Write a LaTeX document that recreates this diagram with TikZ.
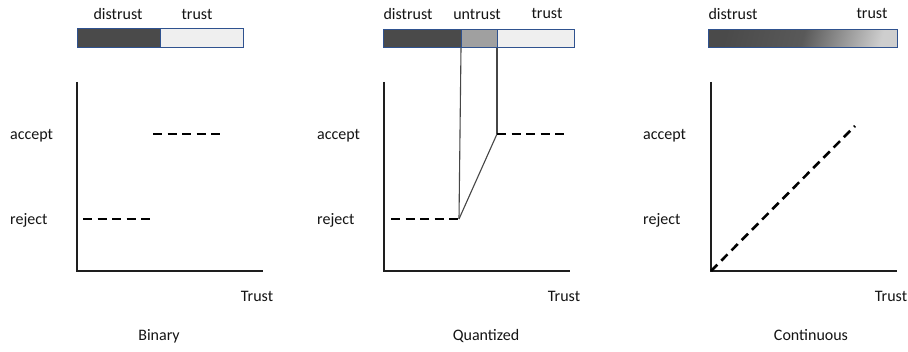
\documentclass[tikz,border=0pt]{standalone}
\usepackage{fontspec}
\setmainfont{Carlito}
\definecolor{barborder}{RGB}{47,82,143}
\definecolor{bardark}{RGB}{74,74,74}
\definecolor{barmid}{RGB}{160,160,160}
\definecolor{barlight}{RGB}{239,239,239}
\definecolor{axiscol}{RGB}{30,30,30}
\definecolor{linkcol}{RGB}{70,70,70}
\definecolor{txtcol}{RGB}{20,20,20}
\begin{document}
\begin{tikzpicture}[x=1pt,y=-1pt,
  lbl/.style={font=\fontsize{16}{19}\selectfont, inner sep=0pt, text=txtcol, anchor=base},
  ylbl/.style={lbl, anchor=base west},
  barseg/.style={draw=barborder, line width=1pt},
  axisline/.style={draw=axiscol, line width=1.3pt},
  dashline/.style={draw=black, line width=2.6pt, dash pattern=on 9pt off 5.5pt},
  linkline/.style={draw=linkcol, line width=1.1pt}]
\useasboundingbox[fill=white] (0,0) rectangle (908,352);

% ---------------- Binary ----------------
\node[lbl] (bdis) at (118,20) {distrust};
\node[lbl] (btru) at (197,20) {trust};
\path[barseg, fill=bardark] (77,29) rectangle (160,48);
\path[barseg, fill=barlight] (160,29) rectangle (243,48);
\coordinate (bO) at (77,271);
\coordinate (bTop) at (77,82);
\coordinate (bEnd) at (263,271);
\draw[axisline] (bTop) -- (bO) -- (bEnd);
\node[ylbl] (bacc) at (10,140) {accept};
\node[ylbl] (brej) at (10,225) {reject};
\node[lbl] (btr) at (257,302) {Trust};
\node[lbl] (bcap) at (159,341) {Binary};
\coordinate (brs) at (83,219);
\coordinate (bre) at (151,219);
\coordinate (bas) at (153,134);
\coordinate (bae) at (223,134);
\draw[dashline] (brs) -- (bre);
\draw[dashline] (bas) -- (bae);

% ---------------- Quantized ----------------
\node[lbl] (qdis) at (408,20) {distrust};
\node[lbl] (quntr) at (477,20) {untrust};
\node[lbl] (qtru) at (547,19) {trust};
\path[barseg, fill=bardark] (383,30) rectangle (461,48);
\path[barseg, fill=barmid] (461,30) rectangle (497,48);
\path[barseg, fill=barlight] (497,30) rectangle (574,48);
\coordinate (qO) at (384,271);
\coordinate (qTop) at (384,82);
\coordinate (qEnd) at (570,271);
\draw[axisline] (qTop) -- (qO) -- (qEnd);
\node[ylbl] (qacc) at (317,140) {accept};
\node[ylbl] (qrej) at (317,225) {reject};
\node[lbl] (qtr) at (564,302) {Trust};
\node[lbl] (qcap) at (486,341) {Quantized};
\coordinate (qrs) at (391,219);
\coordinate (qre) at (459,219);
\coordinate (qas) at (497,134);
\coordinate (qae) at (567,134);
\coordinate (qb1) at (461,48);
\coordinate (qb2) at (497,48);
\draw[linkline] (qb1) -- (qre);
\draw[linkline] (qb2) -- (qas);
\draw[linkline] (qre) -- (qas);
\draw[dashline] (qrs) -- (qre);
\draw[dashline] (qas) -- (qae);

% ---------------- Continuous ----------------
\node[lbl] (cdis) at (733,20) {distrust};
\node[lbl] (ctru) at (872,19) {trust};
\shade[left color=bardark, right color=barlight!70!gray, middle color=gray!70!black, shading angle=75] (708,30) rectangle (897,48);
\draw[barborder, line width=1pt] (708,30) rectangle (897,48);
\coordinate (cO) at (711,271);
\coordinate (cTop) at (711,82);
\coordinate (cEnd) at (897,271);
\draw[axisline] (cTop) -- (cO) -- (cEnd);
\node[ylbl] (cacc) at (643,140) {accept};
\node[ylbl] (crej) at (643,225) {reject};
\node[lbl] (ctr) at (891,302) {Trust};
\node[lbl] (ccap) at (811,341) {Continuous};
\coordinate (cde) at (855,126);
\draw[dashline] (cO) -- (cde);
\end{tikzpicture}
\end{document}
